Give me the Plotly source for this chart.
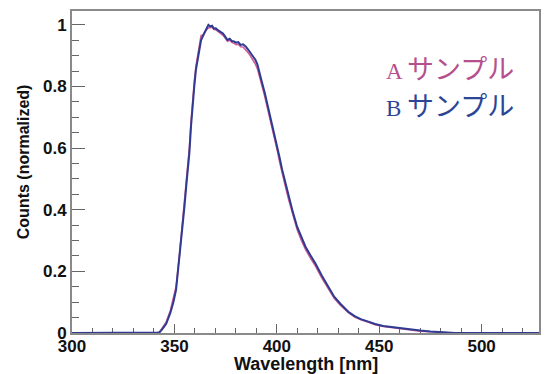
import plotly.graph_objects as go

wavelength = [300, 341, 342.7, 344, 346, 348, 349.5, 350.8, 352.4, 353.6, 354.9, 356.1, 357.3,
              358.1, 358.9, 359.7, 360.5, 361.7, 363, 364.2, 365.4, 366.6, 367.5, 368.4, 369.3,
              370.2, 371.4, 372.6, 373.7, 374.8, 375.9, 377, 378, 379.1, 380.2, 381.2, 382.3,
              383.5, 384.8, 386, 387.2, 388.4, 389.6, 390.5, 391.3, 392.1, 392.9, 394.1, 395.3,
              396.5, 397.7, 399, 400.2, 401.4, 402.6, 404.2, 405.8, 407.8, 409.9, 412, 414,
              416.4, 418.8, 422, 425.2, 428, 431, 434.9, 438, 441, 444.7, 448, 452, 457.6, 462,
              466, 470, 475, 480, 484, 487, 528]

sample_b = [0, 0, 0.002, 0.012, 0.03, 0.065, 0.10, 0.14, 0.237, 0.32, 0.41, 0.50, 0.584,
            0.67, 0.747, 0.80, 0.854, 0.905, 0.95, 0.968, 0.982, 1.0, 0.995, 0.997, 0.988,
            0.989, 0.982, 0.978, 0.972, 0.962, 0.951, 0.955, 0.948, 0.946, 0.942, 0.944, 0.935,
            0.937, 0.93, 0.92, 0.908, 0.898, 0.886, 0.872, 0.854, 0.835, 0.81, 0.78, 0.746,
            0.715, 0.68, 0.642, 0.605, 0.568, 0.53, 0.487, 0.443, 0.393, 0.345, 0.31, 0.28,
            0.252, 0.226, 0.186, 0.148, 0.118, 0.095, 0.069, 0.055, 0.045, 0.037, 0.029, 0.023,
            0.018, 0.014, 0.011, 0.008, 0.005, 0.003, 0.001, 0, 0]

sample_a = [0, 0, 0.003, 0.015, 0.036, 0.072, 0.11, 0.15, 0.25, 0.335, 0.425, 0.515, 0.60,
            0.685, 0.76, 0.815, 0.865, 0.915, 0.965, 0.968, 0.982, 0.99, 0.99, 0.992, 0.985,
            0.984, 0.978, 0.972, 0.966, 0.957, 0.947, 0.95, 0.943, 0.94, 0.936, 0.937, 0.929,
            0.928, 0.92, 0.91, 0.898, 0.886, 0.872, 0.858, 0.84, 0.822, 0.798, 0.768, 0.735,
            0.703, 0.668, 0.63, 0.593, 0.555, 0.517, 0.475, 0.432, 0.383, 0.336, 0.30, 0.271,
            0.243, 0.218, 0.178, 0.142, 0.113, 0.09, 0.066, 0.052, 0.043, 0.035, 0.027, 0.021,
            0.016, 0.012, 0.009, 0.006, 0.004, 0.002, 0.0, 0, 0]

label_a = ("A", "サンプル")
label_b = ("B", "サンプル")
x_title = "Wavelength [nm]"
y_title = "Counts (normalized)"
y_ticks = [0, 0.2, 0.4, 0.6, 0.8, 1]
y_ticklabels = ["0", "0.2", "0.4", "0.6", "0.8", "1"]
x_ticks = [300, 350, 400, 450, 500]

fig = go.Figure()
fig.add_trace(go.Scatter(x=wavelength, y=sample_a, mode="lines", name="".join(label_a),
                         line=dict(color="#cf5c98", width=1.6)))
fig.add_trace(go.Scatter(x=wavelength, y=sample_b, mode="lines", name="".join(label_b),
                         line=dict(color="#2e3b91", width=2)))

sans = "Liberation Sans, Arial, sans-serif"
axis_font = dict(family=sans, size=17, color="#111111")


def legend_text(parts):
    return ('<span style="font-size:23px">%s</span> '
            '<span style="font-size:27px">%s</span>' % parts)


fig.update_layout(
    width=550, height=374,
    margin=dict(l=72, r=9, t=11, b=41),
    paper_bgcolor="white", plot_bgcolor="white",
    showlegend=False,
    font=dict(family=sans),
    xaxis=dict(range=[300, 528], tickvals=x_ticks, ticktext=["<b>%d</b>" % v for v in x_ticks],
               ticks="inside", ticklen=9, tickwidth=1,
               tickcolor="#666666", showgrid=False, zeroline=False, showline=True,
               linecolor="#8a8a8a", linewidth=2, mirror=True, layer="below traces",
               tickfont=axis_font, ticklabelstandoff=-3,
               minor=dict(dtick=10, ticks="inside", ticklen=5, tickcolor="#666666", showgrid=False)),
    yaxis=dict(range=[0, 1.045], tickvals=y_ticks, ticktext=["<b>%s</b>" % t for t in y_ticklabels],
               ticks="inside",
               ticklen=13, tickwidth=1, tickcolor="#666666", showgrid=False, zeroline=False,
               showline=True, linecolor="#8a8a8a", linewidth=2, mirror=True, layer="below traces",
               tickfont=axis_font,
               minor=dict(dtick=0.05, ticks="inside", ticklen=7, tickcolor="#666666", showgrid=False)),
    annotations=[
        dict(text="<b>" + x_title + "</b>", xref="paper", yref="paper", x=0.5, y=-0.097,
             xanchor="center", yanchor="middle", showarrow=False,
             font=dict(family=sans, size=18, color="#111111")),
        dict(text="<b>" + y_title + "</b>", xref="paper", yref="paper", x=-0.1045, y=0.531,
             xanchor="center", yanchor="middle", textangle=-90, showarrow=False,
             font=dict(family=sans, size=16, color="#111111")),
        dict(text=legend_text(label_a), xref="paper", yref="paper", x=0.668, y=0.817,
             xanchor="left", yanchor="middle", showarrow=False,
             font=dict(family="Liberation Serif, Noto Sans CJK JP, serif", size=23, color="#b5508f")),
        dict(text=legend_text(label_b), xref="paper", yref="paper", x=0.668, y=0.702,
             xanchor="left", yanchor="middle", showarrow=False,
             font=dict(family="Liberation Serif, Noto Sans CJK JP, serif", size=23, color="#2c4596")),
    ],
)

fig.write_html("out.html")
